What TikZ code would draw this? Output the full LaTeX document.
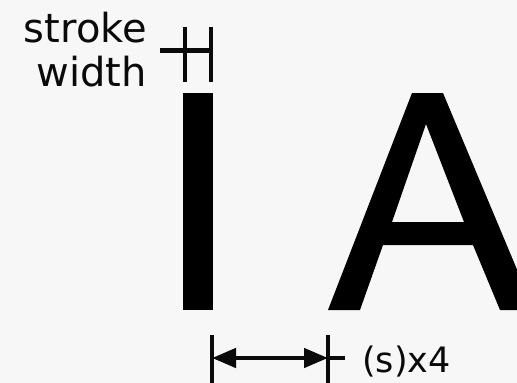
\documentclass[tikz,border=0pt]{standalone}
\usepackage{fontspec}
\setmainfont{DejaVu Sans}
\usepackage{tikz}
\usetikzlibrary{arrows.meta,positioning,calc}
\definecolor{PaperGray}{HTML}{F7F7F7}
\definecolor{InkBlack}{HTML}{0A0A0A}
\tikzset{
  dimline/.style={draw=InkBlack,line width=4.5pt},
  dimarrow/.style={dimline,{Triangle[length=24pt,width=19pt]}-{Triangle[length=24pt,width=19pt]}},
  handtext/.style={inner sep=0pt,text=InkBlack}
}

\begin{document}
\begin{tikzpicture}[x=1pt,y=-1pt]
\useasboundingbox[fill=PaperGray] (0,0) rectangle (517,383);
\clip (0,0) rectangle (517,383);
% the two letters
\fill[black] (183,93) rectangle (213,310);
\fill[black,even odd rule]
  (412,93) -- (443,93) -- (534,310) -- (500,310) -- (473,245) -- (383,245)
  -- (360,310) -- (328,310) -- cycle
  (426,124) -- (464,222) -- (392,222) -- cycle;
% stroke width mark
\coordinate (swl) at (185,27);
\coordinate (swr) at (211,27);
\coordinate (swm) at (160,50.5);
\draw[dimline] (swl) -- ++(0,55);
\draw[dimline] (swr) -- ++(0,55);
\draw[dimline] (swm) -- (swm-|swr);
\node[handtext,font=\fontsize{40}{44}\selectfont,align=right,anchor=south east] (sw) at (147,87) {stroke\\width};
% spacing mark
\coordinate (spl) at (212,335);
\coordinate (spr) at (328,335);
\coordinate (spm) at (212,358);
\draw[dimline] (spl) -- ++(0,60);
\draw[dimline] (spr) -- ++(0,60);
\draw[dimarrow] (spm) -- (spm-|spr);
\draw[dimline] (spm-|spr) -- ++(17,0);
\node[handtext,font=\fontsize{35}{40}\selectfont,anchor=base west] (sx) at (362,372) {(s)x4};
\end{tikzpicture}
\end{document}
